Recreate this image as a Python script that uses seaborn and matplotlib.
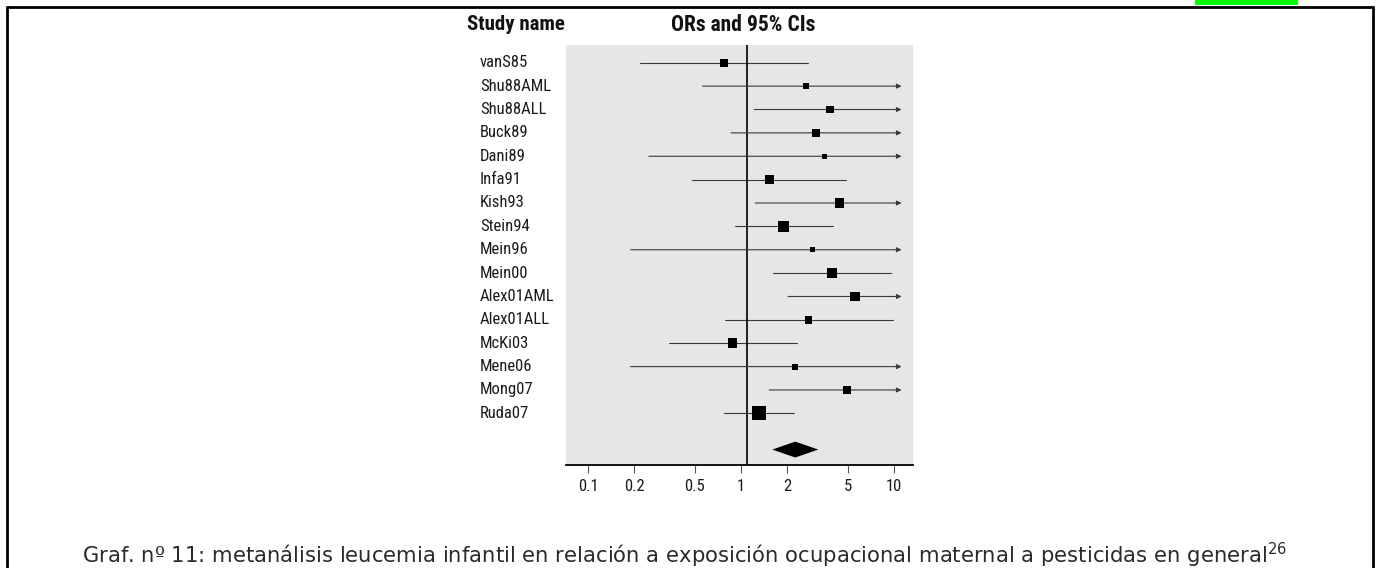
import matplotlib
matplotlib.use('Agg')

import matplotlib.pyplot as plt
import matplotlib.transforms as mtransforms
from matplotlib import font_manager
from matplotlib.lines import Line2D
from matplotlib.patches import Rectangle
import numpy as np
import pandas as pd
import seaborn as sns

# Study data (odds ratios and 95% CI)
studies = ["vanS85", "Shu88AML", "Shu88ALL", "Buck89", "Dani89", "Infa91",
           "Kish93", "Stein94", "Mein96", "Mein00", "Alex01AML", "Alex01ALL",
           "McKi03", "Mene06", "Mong07", "Ruda07"]
odds_ratio = [0.77, 2.65, 3.82, 3.10, 3.52, 1.53, 4.39, 1.90, 2.92, 3.93,
              5.56, 2.77, 0.88, 2.25, 4.93, 1.31]
ci_low = [0.22, 0.56, 1.22, 0.86, 0.25, 0.48, 1.24, 0.91, 0.19, 1.61,
          2.03, 0.79, 0.34, 0.19, 1.53, 0.77]
# None = upper limit beyond the plotted range (drawn as an arrow)
ci_high = [2.73, None, None, None, None, 4.83, None, 3.99, None, 9.60,
           None, 9.85, 2.32, None, None, 2.21]
# relative study weights (box area)
weights = [64, 36, 61, 64, 30, 72, 90, 114, 30, 90, 90, 56, 90, 36, 64, 196]

# pooled estimate: low, estimate, high
pooled = [1.60, 2.26, 3.20]

tick_values = [0.1, 0.2, 0.5, 1, 2, 5, 10]
tick_labels = ["0.1", "0.2", "0.5", "1", "2", "5", "10"]

caption = ("Graf. nº 11: metanálisis leucemia infantil en relación a exposición "
           "ocupacional maternal a pesticidas en general$^{26}$")

df = pd.DataFrame({"study": studies, "or": odds_ratio, "lo": ci_low,
                   "hi": ci_high, "w": weights})
df["row"] = np.arange(len(df))

# pick a narrow font if one is installed
installed = {f.name for f in font_manager.fontManager.ttflist}
narrow = 'DejaVu Sans'
for cand in ['Liberation Sans Narrow', 'DejaVu Sans Condensed', 'Roboto Condensed',
             'Roboto', 'Liberation Sans']:
    if cand in installed:
        narrow = cand
        break

sns.set_theme(style="white")
plt.rcParams['font.family'] = [narrow, 'DejaVu Sans']

W, H = 1377, 568
fig = plt.figure(figsize=(W / 100, H / 100), dpi=100)
ax = fig.add_axes([566 / W, 103 / H, 347 / W, 420 / H])
ax.set_facecolor('#e6e6e8')

arrow_end = 11.2
line_col = '#3a3a3a'

# confidence intervals
for _, r in df.iterrows():
    if pd.isna(r["hi"]):
        ax.annotate("", xy=(arrow_end, r["row"]), xytext=(r["lo"], r["row"]),
                    arrowprops=dict(arrowstyle='-|>', lw=0.8, color=line_col,
                                    mutation_scale=7, shrinkA=0, shrinkB=0))
    else:
        ax.plot([r["lo"], r["hi"]], [r["row"], r["row"]], color=line_col, lw=0.8)

# study boxes
wmin, wmax = min(weights), max(weights)
px2 = (72 / 100) ** 2
sns.scatterplot(data=df, x="or", y="row", size="w",
                sizes=(wmin * px2, wmax * px2), size_norm=(wmin, wmax),
                marker='s', color='black', linewidth=0, legend=False, ax=ax,
                zorder=3)

# pooled diamond
yd = len(studies) + 0.55
ax.fill([pooled[0], pooled[1], pooled[2], pooled[1]],
        [yd, yd - 0.34, yd, yd + 0.34], color='black', lw=0, zorder=3)

# reference line (sits slightly right of the "1" tick in the original)
ax.axvline(1.09, color='black', lw=1.2, zorder=2)

ax.set_xscale('log')
ax.set_xlim(0.0718, 13.3)
ax.set_ylim(17.21, -0.76)
ax.set_xticks(tick_values)
ax.set_xticklabels(tick_labels)
ax.minorticks_off()
ax.set_yticks([])
ax.set_xlabel("")
ax.set_ylabel("")
for s in ["top", "left", "right"]:
    ax.spines[s].set_visible(False)
ax.spines["bottom"].set_color('black')
ax.spines["bottom"].set_linewidth(1.3)

narrow_scale = 1.0 if 'Narrow' in narrow or 'Condensed' in narrow else 0.9
lab_size = 12 * narrow_scale
ax.tick_params(axis='x', bottom=True, length=6, width=0.8, color='#555555',
               pad=4, labelsize=lab_size, labelcolor='#1a1a1a')

# study names
trans = mtransforms.blended_transform_factory(fig.transFigure, ax.transData)
for _, r in df.iterrows():
    ax.text(480 / W, r["row"], r["study"], transform=trans, ha='left',
            va='center', fontsize=lab_size, color='#1a1a1a', clip_on=False)

# headers
fig.text(467 / W, 1 - 25 / H, "Study name", ha='left', va='center',
         fontsize=15 * narrow_scale, fontweight='bold', color='#111111')
fig.text(743 / W, 1 - 25 / H, "ORs and 95% CIs", ha='center', va='center',
         fontsize=15.5 * narrow_scale, fontweight='bold', color='#111111')

# caption
fig.text(685 / W, 13 / H, caption, ha='center', va='center', fontsize=15.2,
         family='DejaVu Sans', color='#2a2a2a')

# page frame and marker box
fig.add_artist(Line2D([7 / W, 1373 / W], [1 - 6.5 / H, 1 - 6.5 / H],
                      transform=fig.transFigure, color='black', lw=2))
fig.add_artist(Line2D([7 / W, 7 / W], [0, 1 - 6.5 / H],
                      transform=fig.transFigure, color='black', lw=2))
fig.add_artist(Line2D([1373 / W, 1373 / W], [0, 1 - 6.5 / H],
                      transform=fig.transFigure, color='black', lw=2))
fig.add_artist(Rectangle((1195 / W, 1 - 5 / H), 103 / W, 5 / H,
                         transform=fig.transFigure, color='#00ff00', lw=0))

fig.savefig("out.png", dpi=100)
plt.close(fig)
